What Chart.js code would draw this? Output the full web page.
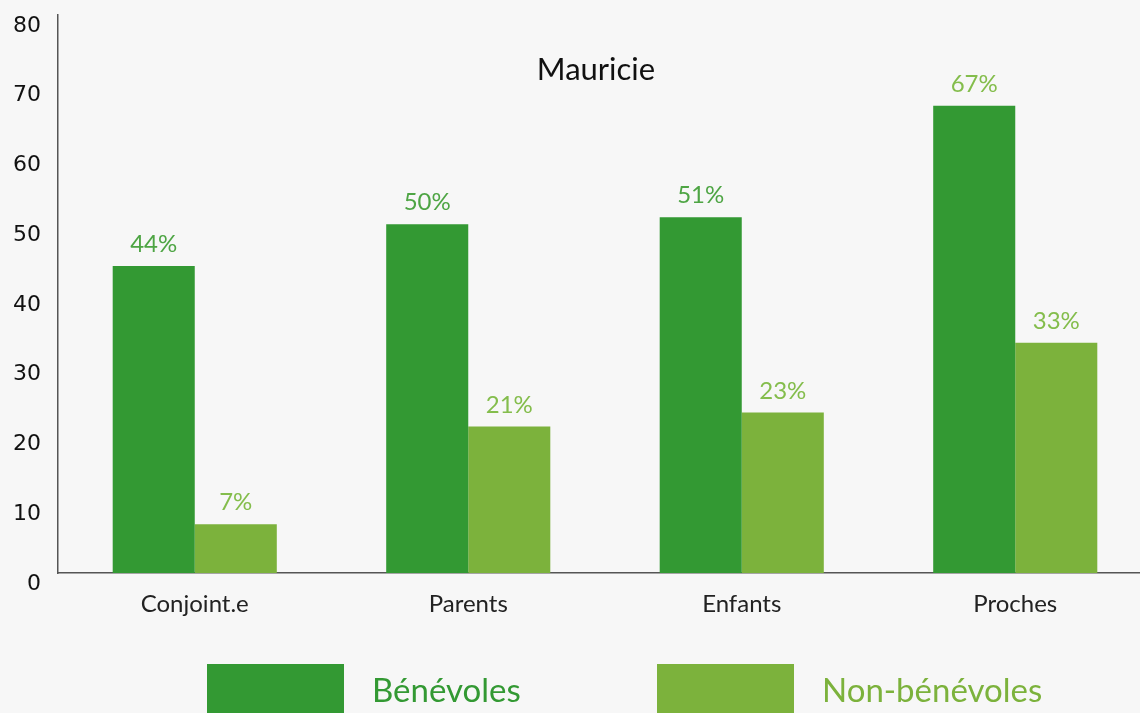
<!DOCTYPE html>
<html>
<head>
<meta charset="utf-8">
<script src="https://cdn.jsdelivr.net/npm/chart.js@4"></script>
<style>
  html, body { margin: 0; padding: 0; background: #f7f7f7; overflow: hidden; }
  #wrap { position: relative; width: 1160px; height: 713px; }
</style>
</head>
<body>
<div id="wrap"><canvas id="chart"></canvas></div>
<script>
const categories = ['Conjoint.e', 'Parents', 'Enfants', 'Proches'];
const seriesNames = ['Bénévoles', 'Non-bénévoles'];
const benevoles = [44, 50, 51, 67];
const nonBenevoles = [7, 21, 23, 33];
const yTicks = [0, 10, 20, 30, 40, 50, 60, 70, 80];
const chartTitle = 'Mauricie';

const darkGreen = '#339933';
const lightGreen = '#7cb23c';

const bg = {
    id: 'bg',
    beforeDraw(chart) {
        const { ctx } = chart;
        ctx.save();
        ctx.fillStyle = '#f7f7f7';
        ctx.fillRect(0, 0, chart.width, chart.height);
        ctx.restore();
    }
};

// title sits inside the plot area
const titleText = {
    id: 'titleText',
    afterDraw(chart) {
        const { ctx } = chart;
        ctx.save();
        ctx.fillStyle = '#111111';
        ctx.font = '31px Lato';
        ctx.textAlign = 'center';
        ctx.textBaseline = 'alphabetic';
        ctx.fillText(chartTitle, 596, 80);
        ctx.restore();
    }
};

// percent labels above bars
const valueLabels = {
    id: 'valueLabels',
    afterDatasetsDraw(chart) {
        const { ctx } = chart;
        ctx.save();
        ctx.font = '24px Lato';
        ctx.textAlign = 'center';
        ctx.textBaseline = 'alphabetic';
        chart.data.datasets.forEach((ds, i) => {
            const meta = chart.getDatasetMeta(i);
            meta.data.forEach((bar, j) => {
                ctx.fillStyle = ds.labelColors[j];
                ctx.fillText(ds.data[j] + '%', bar.x, bar.y - 14);
            });
        });
        ctx.restore();
    }
};

// big legend boxes at the bottom
const bottomLegend = {
    id: 'bottomLegend',
    afterDraw(chart) {
        const { ctx } = chart;
        const starts = [207, 657];
        ctx.save();
        ctx.font = '33px Lato';
        ctx.textBaseline = 'alphabetic';
        ctx.textAlign = 'left';
        chart.data.datasets.forEach((ds, i) => {
            const x = starts[i];
            ctx.fillStyle = ds.backgroundColor;
            ctx.fillRect(x, chart.height - 49, 137, 49);
            ctx.fillText(ds.label, x + 137 + 28, 702);
        });
        ctx.restore();
    }
};

const data = {
    labels: categories,
    datasets: [
        {
            label: seriesNames[0],
            data: benevoles,
            backgroundColor: darkGreen,
            labelColors: ['#4ea544', '#4ea544', '#4ea544', '#84bd4c']
        },
        {
            label: seriesNames[1],
            data: nonBenevoles,
            backgroundColor: lightGreen,
            labelColors: ['#84bd4c', '#84bd4c', '#84bd4c', '#84bd4c']
        }
    ]
};

const config = {
    type: 'bar',
    data,
    options: {
        responsive: true,
        maintainAspectRatio: false,
        animation: false,
        categoryPercentage: 0.6,
        barPercentage: 1.0,
        layout: {
            padding: { left: 0, right: 8, top: 15, bottom: 0 }
        },
        plugins: {
            legend: { display: false },
            tooltip: { enabled: false }
        },
        scales: {
            x: {
                grid: { display: false, drawTicks: false },
                border: { display: true, color: '#555555', width: 1.5 },
                ticks: {
                    color: '#222222',
                    font: { family: 'Lato', size: 24 },
                    padding: 17
                },
                afterFit(scale) { scale.height = 140; }
            },
            y: {
                min: 0,
                max: 80,
                grid: { display: false, drawTicks: false },
                border: { display: true, color: '#555555', width: 1.5 },
                afterBuildTicks(scale) {
                    scale.ticks = yTicks.map(v => ({ value: v }));
                },
                ticks: {
                    color: '#111111',
                    font: { family: 'DejaVu Sans', size: 22 },
                    padding: 17,
                    labelOffset: 11
                },
                afterFit(scale) {
                    scale.width = 58;
                    scale.paddingTop = 0;
                    scale.paddingBottom = 0;
                }
            }
        }
    },
    plugins: [bg, valueLabels, titleText, bottomLegend]
};

new Chart(document.getElementById('chart'), config);
</script>
</body>
</html>
